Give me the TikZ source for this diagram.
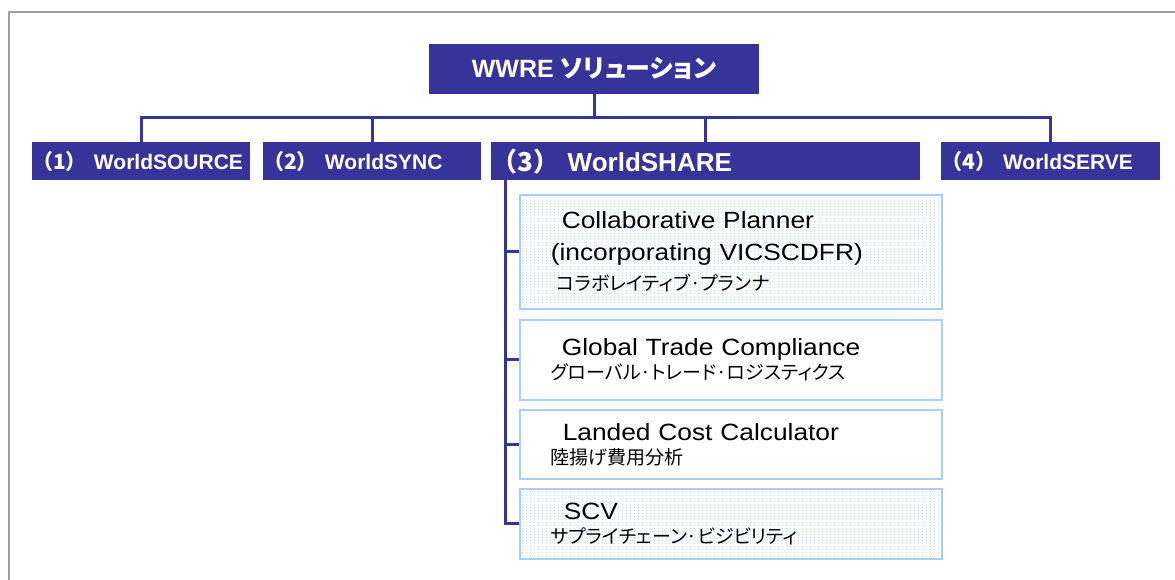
\documentclass[tikz,border=0pt]{standalone}
\usepackage{fontspec}
\setmainfont{Liberation Sans}
\newfontfamily\jp[RawFeature=+palt]{Noto Sans CJK JP}
\newfontfamily\jpfull{Noto Sans CJK JP}
\newfontfamily\wide[FakeStretch=1.12]{Liberation Sans}
\definecolor{navy}{RGB}{54,52,152}
\definecolor{sky}{RGB}{165,208,250}
\definecolor{skydot}{RGB}{200,224,248}
\definecolor{framegray}{RGB}{160,160,160}

\begin{document}
\begin{tikzpicture}[x=1pt,y=-1pt,
	head/.style={fill=navy,text=white,inner sep=0pt},
	group/.style={head,anchor=north west,minimum height=38pt,text width=#1,align=left},
	link/.style={navy,line width=3pt},
	item/.style={draw=sky,line width=1.6pt,anchor=north west,minimum width=422pt,minimum height=#1,text width=360pt,inner xsep=31pt,inner ysep=0pt,align=left,font=\wide\fontsize{23.5}{24}\selectfont},
	dotfill/.style={path picture={\foreach \d in {3,7,...,423} \draw[skydot,line width=1pt,dash pattern=on 1pt off 2pt] ([xshift=\d pt]path picture bounding box.south west) -- ([xshift=\d pt]path picture bounding box.north west);}}]
	\useasboundingbox (0,0) rectangle (1175,580);
	\draw[framegray,line width=2pt] (9,580) -- (9,12) -- (1175,12);
	\node[head,minimum width=330pt,minimum height=50pt,font=\bfseries\fontsize{25}{30}\selectfont] (top) at (594,69) {WWRE {\jp ソリューション}};
	\foreach \n/\x/\w/\f/\k/\t in {c1/32/218/21/1/WorldSOURCE,c2/263/218/21/2/WorldSYNC,c3/491/429/26/3/WorldSHARE,c4/941/219/21/4/WorldSERVE}
		\node[group=\w pt,font=\fontsize{\f}{\f}\selectfont] (\n) at (\x,142) {{\jpfull\bfseries （\k）} \textbf{\t}};
	\coordinate (bus) at (594,118);
	\draw[link] (top.south) -- (bus);
	\foreach \n in {c1,c2,c3,c4} \draw[link] (bus) -| (\n.north);
	\node[item=114pt,dotfill] (s1) at (519,194) {\hspace*{11pt}Collaborative Planner\\[8pt](incorporating VICSCDFR)\\[6pt]\hspace*{6pt}{\jp\fontsize{19}{24}\selectfont コラボレイティブ·プランナ}};
	\node[item=80pt] (s2) at (519,319) {\hspace*{11pt}Global Trade Compliance\\{\jp\fontsize{19}{24}\selectfont グローバル·トレード·ロジスティクス}};
	\node[item=69pt] (s3) at (519,409) {\hspace*{12pt}Landed Cost Calculator\\{\jp\fontsize{19}{24}\selectfont 陸揚げ費用分析}};
	\node[item=70pt,dotfill] (s4) at (519,488) {\hspace*{13pt}SCV\\{\jp\fontsize{19}{24}\selectfont サプライチェーン·ビジビリティ}};
	\coordinate (spine) at ([xshift=14pt]c3.south west);
	\foreach \i in {1,...,4} \draw[link] (spine) |- (s\i.west);
\end{tikzpicture}
\end{document}
